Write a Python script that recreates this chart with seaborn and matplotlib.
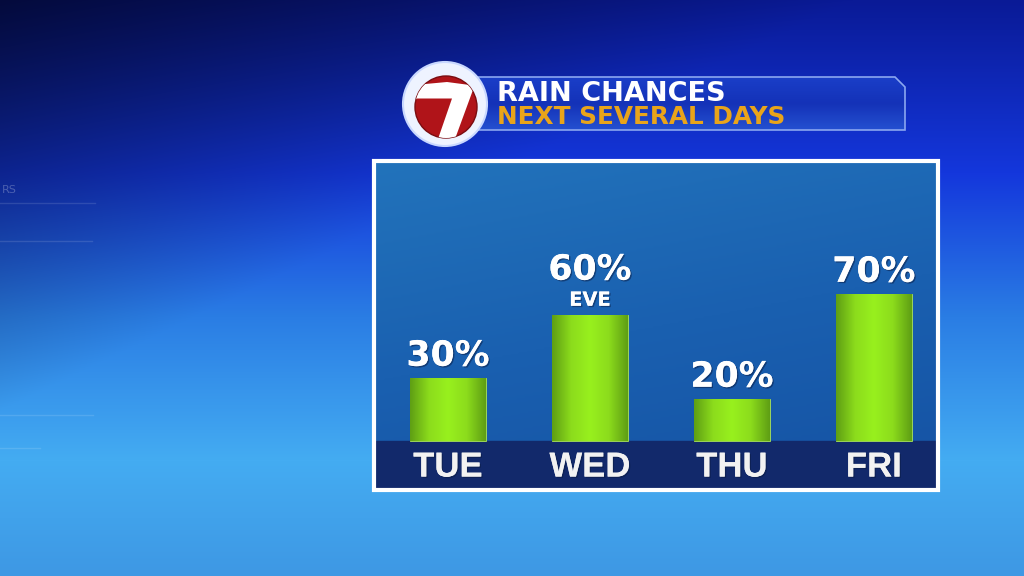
import matplotlib
matplotlib.use("Agg")
import matplotlib.pyplot as plt
import matplotlib.patches as mpatches
import matplotlib.patheffects as pe
from matplotlib.colors import LinearSegmentedColormap
import seaborn as sns
import numpy as np
import pandas as pd

# chart data
days = ["TUE", "WED", "THU", "FRI"]
rain_pct = [30, 60, 20, 70]
notes = ["", "EVE", "", ""]
title_main = "RAIN CHANCES"
title_sub = "NEXT SEVERAL DAYS"

df = pd.DataFrame({"day": days, "pct": rain_pct})

W, H = 1024, 576
fig = plt.figure(figsize=(W / 100, H / 100), dpi=100)

# ---- background gradient (whole frame) ----
ax_bg = fig.add_axes([0, 0, 1, 1], zorder=0)
yy, xx = np.mgrid[0:1:H * 1j, 0:1:W * 1j]
stops_t = [0.0, 0.3, 0.55, 0.8, 1.0]
stops_c = np.array([[10, 26, 150], [20, 55, 220], [42, 125, 228], [68, 172, 242], [62, 152, 228]]) / 255.0
bg = np.zeros((H, W, 3))
for k in range(3):
    bg[..., k] = np.interp(yy, stops_t, stops_c[:, k])
vign = np.clip(1 - xx * 1.2 - yy * 1.4, 0, 1)
bg *= (1 - 0.6 * vign)[..., None]
ax_bg.imshow(np.clip(bg, 0, 1), extent=[0, W, H, 0], aspect="auto")
# faint decorative lines on the left
for (x0, x1, y0) in [(0, 95, 203), (0, 92, 241), (0, 93, 415), (0, 40, 448)]:
    ax_bg.plot([x0, x1], [y0, y0], color="white", alpha=0.12, lw=1)
ax_bg.text(2, 190, "RS", color="white", alpha=0.25, fontsize=8, va="center")
ax_bg.set_xlim(0, W)
ax_bg.set_ylim(H, 0)
ax_bg.axis("off")

# ---- main bar chart inside the panel ----
px_left, px_right, px_top, px_bot = 376, 936, 163, 489
ax = fig.add_axes([px_left / W, 1 - px_bot / H, (px_right - px_left) / W, (px_bot - px_top) / H], zorder=1)
panel_cmap = LinearSegmentedColormap.from_list("panel", ["#1552a3", "#1a60b0", "#2273bb"])
pg = np.linspace(0, 1, 200)[:, None] * 0.75 + np.linspace(0, 1, 200)[None, ::-1] * 0.25
ax.imshow(pg, cmap=panel_cmap, extent=[0, 1, 0, 1], transform=ax.transAxes,
          aspect="auto", origin="lower", zorder=0)

sns.barplot(data=df, x="day", y="pct", width=0.535, color="#8ee81a", ax=ax, zorder=2)
bars = list(ax.patches)

ymin, ymax = -22.9, 132.4
xmin, xmax = -0.507, 3.437

bar_cmap = LinearSegmentedColormap.from_list("bar", ["#5f9f14", "#8cdc1c", "#98f01e", "#8cdc1c", "#5f9f14"])
grad = np.linspace(0, 1, 100)[None, :]
for patch in bars:
    x0, y0 = patch.get_x(), patch.get_y()
    w, h = patch.get_width(), patch.get_height()
    im = ax.imshow(grad, cmap=bar_cmap, extent=[x0, x0 + w, y0, y0 + h],
                   aspect="auto", zorder=2.5)
    im.set_clip_path(patch)
    patch.set_edgecolor("#a6e05a")
    patch.set_linewidth(0.6)

ax.axhspan(ymin, 0, color="#12296b", zorder=1)

shadow = [pe.withSimplePatchShadow(offset=(1, -1), shadow_rgbFace="#0a1a40", alpha=0.5), pe.Normal()]
for i, (v, note) in enumerate(zip(rain_pct, notes)):
    base = v + 2.5
    if note:
        ax.text(i, base, note, ha="center", va="bottom", color="white",
                fontsize=14, fontweight="bold", family="DejaVu Sans", path_effects=shadow, zorder=4)
        base += 11
    ax.text(i, base, f"{v}%", ha="center", va="bottom", color="white",
            fontsize=25, fontweight="bold", family="DejaVu Sans", path_effects=shadow, zorder=4)
    ax.text(i, ymin / 2 - 1, days[i], ha="center", va="center", color="#f2f2f2",
            fontsize=25, fontweight="bold", family="Liberation Sans", path_effects=shadow, zorder=4)

ax.set_xlim(xmin, xmax)
ax.set_ylim(ymin, ymax)
ax.set_xlabel("")
ax.set_ylabel("")
ax.set_xticks([])
ax.set_yticks([])
for s in ax.spines.values():
    s.set_visible(False)

# ---- overlay: panel border, title bar, logo ----
ov = fig.add_axes([0, 0, 1, 1], zorder=3)
ov.set_xlim(0, W)
ov.set_ylim(H, 0)
ov.axis("off")
ov.patch.set_alpha(0)

ov.add_patch(mpatches.Rectangle((374, 161), 564, 329, fill=False, edgecolor="white", lw=3))

bar_pts = [(470, 77), (895, 77), (905, 87), (905, 130), (470, 130)]
tb = mpatches.Polygon(bar_pts, closed=True, facecolor="none", edgecolor="#8aa6f0", lw=1.2, zorder=2)
ov.add_patch(tb)
tcmap = LinearSegmentedColormap.from_list("tb", ["#1a3ec8", "#1432b8", "#2450d0"])
tim = ov.imshow(np.linspace(0, 1, 50)[:, None], cmap=tcmap, extent=[470, 905, 130, 77],
                aspect="auto", zorder=1)
tim.set_clip_path(tb)
ov.text(497, 94, title_main, color="white", fontsize=19.5, fontweight="bold",
        family="DejaVu Sans", va="center", ha="left", zorder=3)
ov.text(497, 117, title_sub, color="#e9a41a", fontsize=17.8, fontweight="bold",
        family="DejaVu Sans", va="center", ha="left", zorder=3)

# station logo
ov.add_patch(mpatches.Circle((445, 104), 42, facecolor="#eef3ff", edgecolor="#c9d8ff", lw=1.5, zorder=4))
red = mpatches.Circle((446, 107), 31, facecolor="#b01419", edgecolor="#7a0c10", lw=1, zorder=5)
ov.add_patch(red)
seven = mpatches.Polygon([(420, 84.5), (447, 82), (473.5, 85.5), (473.5, 88.5), (455, 139),
                          (438, 139), (452, 98.5), (416.5, 98.5), (415, 102)],
                         closed=True, facecolor="white", edgecolor="none", zorder=6)
ov.add_patch(seven)
seven.set_clip_path(red)

fig.savefig("out.png", dpi=100)
